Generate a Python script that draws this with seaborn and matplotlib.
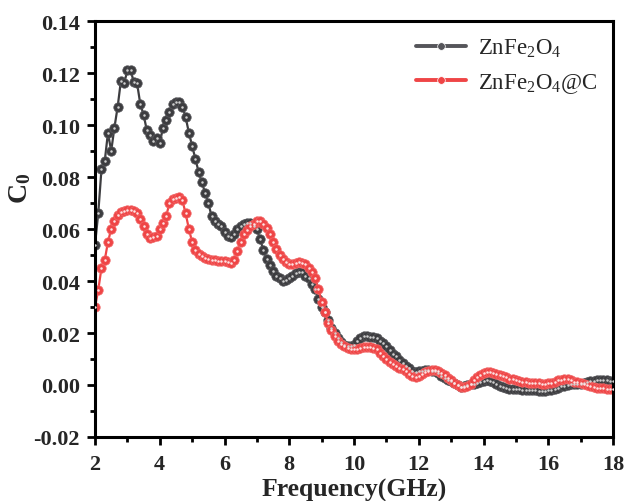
import numpy as np
import pandas as pd
import matplotlib
matplotlib.use("Agg")
import matplotlib.pyplot as plt
import seaborn as sns
from matplotlib.ticker import MultipleLocator, AutoMinorLocator

freq = [round(2.0 + 0.1 * i, 1) for i in range(161)]

zfo = [0.054, 0.066, 0.083, 0.086, 0.097, 0.090, 0.099, 0.107, 0.117, 0.116,
       0.121, 0.121, 0.1165, 0.116, 0.108, 0.104, 0.098, 0.096, 0.094, 0.095,
       0.093, 0.099, 0.102, 0.105, 0.108, 0.109, 0.109, 0.107, 0.103, 0.097,
       0.092, 0.087, 0.082, 0.078, 0.074, 0.070, 0.065, 0.063, 0.062, 0.061,
       0.059, 0.0575, 0.057, 0.058, 0.060, 0.061, 0.062, 0.0625, 0.0625, 0.061,
       0.060, 0.056, 0.052, 0.0485, 0.046, 0.044, 0.042, 0.041, 0.040, 0.0405,
       0.041, 0.042, 0.043, 0.0435, 0.0433, 0.042, 0.041, 0.039, 0.037, 0.033,
       0.030, 0.028, 0.025, 0.022, 0.020, 0.018, 0.0165, 0.0155, 0.015, 0.015,
       0.0155, 0.017, 0.018, 0.019, 0.019, 0.0185, 0.0185, 0.018, 0.017, 0.016,
       0.015, 0.0135, 0.012, 0.011, 0.0095, 0.0085, 0.0075, 0.0065, 0.0055, 0.005,
       0.0055, 0.0055, 0.0058, 0.0058, 0.0055, 0.0052, 0.0045, 0.0035, 0.0028, 0.002,
       0.0015, 0.0008, 0.0, -0.0008, -0.0005, 0.0, 0.0005, 0.0005, 0.0008, 0.0012,
       0.0016, 0.0018, 0.0017, 0.0012, 0.0005, -0.0003, -0.0008, -0.0012, -0.0014, -0.0015,
       -0.0016, -0.0017, -0.0018, -0.0019, -0.002, -0.002, -0.0021, -0.0022, -0.0022, -0.0022,
       -0.002, -0.0018, -0.0015, -0.001, -0.0005, -0.0003, 0.0, 0.0002, 0.0003, 0.0004,
       0.0005, 0.0008, 0.0012, 0.0015, 0.0017, 0.0018, 0.0019, 0.0019, 0.0018, 0.0017,
       0.0017]

zfo_c = [0.030, 0.0365, 0.045, 0.048, 0.055, 0.060, 0.063, 0.0655, 0.0665, 0.067,
         0.0675, 0.0675, 0.067, 0.066, 0.064, 0.061, 0.058, 0.0565, 0.0568, 0.0575,
         0.060, 0.0625, 0.065, 0.070, 0.0715, 0.072, 0.0722, 0.071, 0.066, 0.060,
         0.055, 0.052, 0.0505, 0.0498, 0.049, 0.0485, 0.0482, 0.048, 0.0478, 0.0477,
         0.0477, 0.0475, 0.0468, 0.048, 0.0515, 0.055, 0.058, 0.0595, 0.061, 0.062,
         0.063, 0.0632, 0.062, 0.0605, 0.058, 0.055, 0.0525, 0.050, 0.0485, 0.0475,
         0.0467, 0.0465, 0.047, 0.0472, 0.047, 0.0465, 0.045, 0.0435, 0.041, 0.037,
         0.032, 0.028, 0.024, 0.021, 0.019, 0.017, 0.0158, 0.015, 0.0143, 0.014,
         0.0138, 0.014, 0.0143, 0.0145, 0.0145, 0.0145, 0.0142, 0.0138, 0.0125, 0.0113,
         0.010, 0.009, 0.008, 0.0072, 0.0066, 0.006, 0.0052, 0.0044, 0.0036, 0.0032,
         0.0036, 0.0042, 0.005, 0.0055, 0.0058, 0.0058, 0.0055, 0.0048, 0.0038, 0.0028,
         0.0018, 0.0008, 0.0, -0.0006, -0.0009, -0.0005, 0.0005, 0.0018, 0.003, 0.004,
         0.0046, 0.0049, 0.0049, 0.0047, 0.0043, 0.0038, 0.0033, 0.0029, 0.0025, 0.0022,
         0.0019, 0.0016, 0.0013, 0.0011, 0.0009, 0.0008, 0.0007, 0.0006, 0.0005, 0.0005,
         0.0006, 0.0009, 0.0013, 0.0018, 0.0021, 0.0023, 0.0022, 0.0018, 0.0013, 0.001,
         0.0007, 0.0004, 0.0, -0.0004, -0.0008, -0.001, -0.0012, -0.0013, -0.0014, -0.0015,
         -0.0015]

labels = [r"ZnFe$_\mathregular{2}$O$_\mathregular{4}$",
          r"ZnFe$_\mathregular{2}$O$_\mathregular{4}$@C"]
colors = ["#3d3d40", "#ef4546"]

sns.set_theme(style="white")
plt.rcParams["font.family"] = ["Liberation Serif", "DejaVu Serif"]
plt.rcParams["mathtext.fontset"] = "custom"
plt.rcParams["mathtext.rm"] = "Liberation Serif"
plt.rcParams["mathtext.bf"] = "Liberation Serif:bold"
plt.rcParams["mathtext.it"] = "Liberation Serif:italic"

df = pd.DataFrame({
    "Frequency": freq + freq,
    "C0": zfo + zfo_c,
    "Sample": [labels[0]] * len(freq) + [labels[1]] * len(freq),
})

fig = plt.figure(figsize=(6.27, 5.02), dpi=100)
ax = fig.add_axes([95 / 627, 1 - 438 / 502, (613 - 95) / 627, (438 - 22) / 502])

sns.lineplot(data=df, x="Frequency", y="C0", hue="Sample", hue_order=labels,
             palette=colors, marker="o", markersize=6.8, markeredgewidth=0.5,
             linewidth=1.6, ax=ax, legend=True, sort=False)
for line, c in zip(ax.get_lines()[:2], ["#58585c", "#f26a6a"]):
    line.set_markeredgecolor(c)

# small highlights on the markers (sphere look)
for y, hc in zip([zfo, zfo_c], ["#d0d0d0", "#fde4e4"]):
    ax.plot(freq, y, linestyle="none", marker="o", markersize=1.8,
            color=hc, markeredgewidth=0, zorder=5)

ax.set_xlim(2, 18)
ax.set_ylim(-0.02, 0.14)
ax.xaxis.set_major_locator(MultipleLocator(2))
ax.xaxis.set_minor_locator(AutoMinorLocator(2))
ax.yaxis.set_major_locator(MultipleLocator(0.02))
ax.yaxis.set_minor_locator(AutoMinorLocator(2))
ax.yaxis.set_major_formatter(matplotlib.ticker.FormatStrFormatter("%.2f"))

ax.tick_params(axis="both", which="major", direction="out", length=6, width=2,
               labelsize=16, color="black", bottom=True, left=True,
               top=False, right=False)
ax.tick_params(axis="x", which="major", pad=6)
ax.tick_params(axis="y", which="major", pad=5)
ax.tick_params(axis="both", which="minor", direction="out", length=3.5, width=2,
               color="black", bottom=True, left=True, top=False, right=False)
for lab in ax.get_xticklabels() + ax.get_yticklabels():
    lab.set_fontweight("bold")
for sp in ax.spines.values():
    sp.set_linewidth(2.2)
    sp.set_color("black")
    sp.set_visible(True)

ax.set_xlabel("Frequency(GHz)", fontsize=18.5, fontweight="bold", labelpad=3)
ax.set_ylabel(r"C$_\mathbf{0}$", fontsize=20, fontweight="bold")
ax.yaxis.set_label_coords(-0.12, 0.60)

leg = ax.legend(loc="upper right", frameon=False, fontsize=16.5, handlelength=2.2,
                handletextpad=0.5, borderaxespad=0.3, labelspacing=0.5,
                bbox_to_anchor=(1.0, 1.0))
for h, c in zip(leg.legend_handles, ["#55555a", "#ef4546"]):
    h.set_linewidth(2.8)
    h.set_color(c)
    h.set_markersize(5.5)

fig.savefig("out.png", dpi=100)
